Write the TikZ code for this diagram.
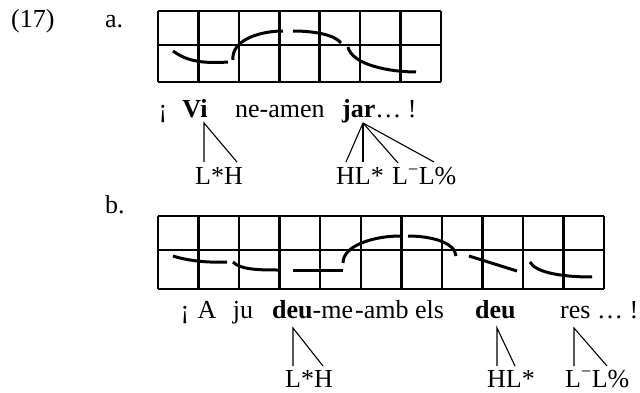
\documentclass[tikz,border=0pt]{standalone}
\usepackage{fontspec}
\setmainfont{Liberation Serif}
\tikzset{
  gridline/.style={line width=2.5pt},
  contour/.style={line width=3pt},
  assoc/.style={line width=1.1pt},
  txt/.style={inner sep=0pt, anchor=base west, font=\fontsize{26}{30}\selectfont},
  txtc/.style={inner sep=0pt, anchor=base, font=\fontsize{26}{30}\selectfont}
}
\newcommand{\supminus}{\textsuperscript{\char"2212}}
\begin{document}
\begin{tikzpicture}[x=1pt,y=-1pt]
\useasboundingbox (0,0) rectangle (640,393);
% labels
\node[txt] (num) at (11,28) {(17)};
\node[txt] (la) at (105,28) {a.};
\node[txt] (lb) at (105,213) {b.};
% grid a
\foreach \i in {0,...,7} \draw[gridline] ({158+40.43*\i},11) -- ({158+40.43*\i},82);
\foreach \y in {11,45,82} \draw[gridline] (158,\y) -- (441,\y);
\draw[contour] (173,51) .. controls (185,60) and (200,64) .. (228,62);
\draw[contour] (233,60) .. controls (231,40) and (260,31) .. (283,31);
\draw[contour] (293,31) .. controls (315,31) and (335,35) .. (341,43);
\draw[contour] (348,47) .. controls (352,65) and (390,72) .. (416,72);
% text a
\node[txtc] (inva) at (163,118) {¡};
\node[txtc] (vi) at (195,118) {\textbf{Vi}};
\node[txt] (ne) at (235,118) {ne-amen};
\node[txt] (jar) at (342,118) {\textbf{jar}\ldots\ !};
\node[txtc] (lha) at (219,185) {L*H};
\node[txt] (hla) at (336,185) {HL*};
\node[txt] (lla) at (392,185) {L\supminus L\%};
\coordinate (vitop) at (204,123);
\coordinate (via) at (204,162);
\coordinate (vib) at (237,162);
\coordinate (jartop) at (363,123);
\coordinate (ja1) at (346,162);
\coordinate (ja2) at (363,162);
\coordinate (ja3) at (398,163);
\coordinate (ja4) at (434,162);
\draw[assoc] (via) -- (vitop) -- (vib);
\foreach \c in {ja1,ja2,ja3,ja4} \draw[assoc] (jartop) -- (\c);
% grid b
\foreach \i in {0,...,11} \draw[gridline] ({158+40.55*\i},216) -- ({158+40.55*\i},289);
\foreach \y in {216,250,289} \draw[gridline] (158,\y) -- (604,\y);
\draw[contour] (173,256) .. controls (185,260) and (205,263) .. (227,262);
\draw[contour] (233,262) .. controls (240,270) and (262,270) .. (278,270);
\draw[contour] (293,270) -- (343,270);
\draw[contour] (343,263) .. controls (343,245) and (375,236) .. (400,236);
\draw[contour] (408,236) .. controls (430,236) and (455,242) .. (456,256);
\draw[contour] (469,256) -- (517,271);
\draw[contour] (530,262) .. controls (535,272) and (560,277) .. (592,277);
% text b
\node[txtc] (invb) at (185,318) {¡};
\node[txtc] (A) at (207,318) {A};
\node[txtc] (ju) at (243,318) {ju};
\node[txt] (deu1) at (272,318) {\textbf{deu}-me};
\node[txt] (amb) at (355,318) {-amb els};
\node[txt] (deu2) at (475,318) {\textbf{deu}};
\node[txt] (res) at (560,318) {res \ldots\ !};
\node[txt] (lhb) at (285,387) {L*H};
\node[txt] (hlb) at (487,387) {HL*};
\node[txt] (llb) at (565,387) {L\supminus L\%};
\coordinate (d1top) at (293,328);
\coordinate (d1a) at (293,366);
\coordinate (d1b) at (323,366);
\coordinate (d2top) at (497,328);
\coordinate (d2a) at (497,366);
\coordinate (d2b) at (515,366);
\coordinate (rtop) at (574,328);
\coordinate (ra) at (574,366);
\coordinate (rb) at (607,366);
\draw[assoc] (d1a) -- (d1top) -- (d1b);
\draw[assoc] (d2a) -- (d2top) -- (d2b);
\draw[assoc] (ra) -- (rtop) -- (rb);
\end{tikzpicture}
\end{document}
